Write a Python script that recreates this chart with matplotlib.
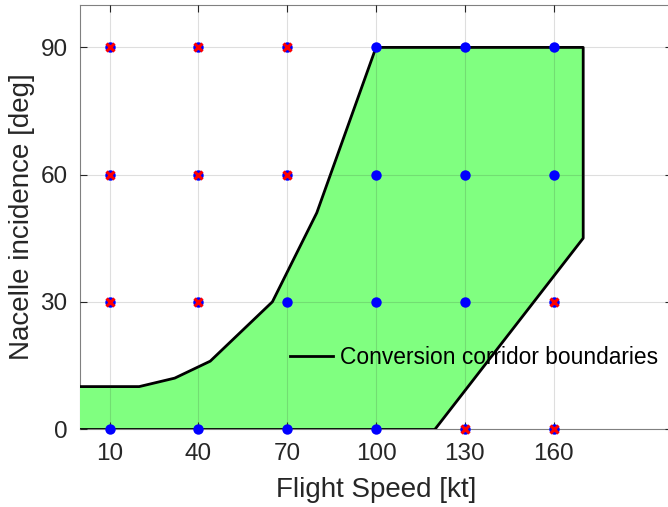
import matplotlib.pyplot as plt
import numpy as np

plt.rcParams['font.family'] = ['Liberation Sans', 'DejaVu Sans']

# corridor boundary polygon (speed [kt], incidence [deg])
corr_speed = [0, 20, 32, 44, 65, 80, 100, 170, 170, 120, 0]
corr_incid = [10, 10, 12, 16, 30, 51, 90, 90, 45, 0, 0]

# test points
speeds = [10, 40, 70, 100, 130, 160]
incidences = [0, 30, 60, 90]

# points outside the corridor (red crosses)
bad_speed = [10, 10, 10, 40, 40, 40, 70, 70, 130, 160, 160]
bad_incid = [30, 60, 90, 30, 60, 90, 60, 90, 0, 0, 30]

fig = plt.figure(figsize=(6.68, 5.07), dpi=100)
ax = fig.add_axes([80/668, 78/507, 592/668, 424/507])

ax.fill(corr_speed, corr_incid, facecolor=(0.5, 1.0, 0.5), edgecolor='none', zorder=1)
ln, = ax.plot(corr_speed[:-1], corr_incid[:-1], color='k', lw=2, zorder=2,
              label='Conversion corridor boundaries')
ax.plot([0, 120], [0, 0], color='k', lw=2, zorder=2)

S, I = np.meshgrid(speeds, incidences)
ax.plot(S.ravel(), I.ravel(), 'o', color='b', ms=7.5, mec='none', zorder=4, clip_on=False)
ax.plot(bad_speed, bad_incid, 'x', color='r', ms=5.5, mew=2.2, zorder=5, clip_on=False)

ax.set_xlim(0, 200)
ax.set_ylim(0, 100)
ax.set_xticks(speeds)
ax.set_yticks([0, 30, 60, 90])
ax.grid(True, color='#262626', alpha=0.15, lw=0.8)
ax.set_axisbelow(False)
ax.tick_params(direction='in', length=5, labelsize=17.5, colors='#262626', pad=10,
               top=True, right=True)
ax.tick_params(axis='y', pad=9)
for sp in ax.spines.values():
    sp.set_color('#808080')
    sp.set_linewidth(0.8)
    sp.set_zorder(0.5)

ax.set_xlabel('Flight Speed [kt]', fontsize=20, color='#262626', labelpad=9)
ax.set_ylabel('Nacelle incidence [deg]', fontsize=20, color='#262626', labelpad=4)

ax.legend(handles=[ln], loc='center left', bbox_to_anchor=(210/592, 72/424),
          frameon=False, fontsize=16.4, handlelength=1.9, handletextpad=0.3,
          borderpad=0, borderaxespad=0)

fig.savefig('out.png', dpi=100)
